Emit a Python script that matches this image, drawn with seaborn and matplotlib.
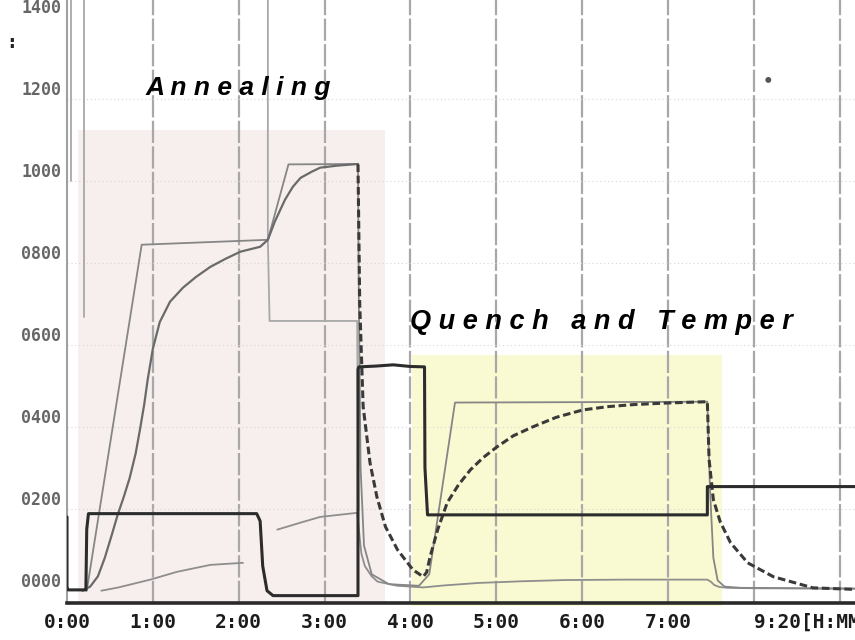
import numpy as np
import pandas as pd
import matplotlib
matplotlib.use("Agg")
import matplotlib.pyplot as plt
import seaborn as sns
from matplotlib.patches import Rectangle

# ---------------- data (hours, temperature) ----------------
x_ticks = [0, 1, 2, 3, 4, 5, 6, 7, 8]
x_tick_labels = ["0:00", "1:00", "2:00", "3:00", "4:00", "5:00", "6:00", "7:00", "9:20[H:MM]"]
y_ticks = [0, 200, 400, 600, 800, 1000, 1200, 1400]
y_tick_labels = ["0000", "0200", "0400", "0600", "0800", "1000", "1200", "1400"]

# process phases: name, start hour, end hour, top value, bottom value
phase_names = ["Annealing", "Quench and Temper"]
phase_start = [0.128, 4.02]
phase_end = [3.706, 7.63]
phase_top = [1124, 576]
phase_bottom = [-33, -38]

# setpoint (thin grey)
setpoint_h = [0.23, 0.87, 2.34, 2.58, 3.39, 3.40, 3.42, 3.46, 3.55, 3.75, 4.10, 4.22, 4.52, 7.46,
              7.49, 7.53, 7.58, 7.66, 7.85, 9.20]
setpoint_v = [0, 844, 856, 1040, 1041, 700, 300, 110, 40, 16, 12, 40, 459, 461,
              250, 80, 25, 10, 7, 5]

# work temperature during annealing (medium grey curve)
work_h = [0.18, 0.27, 0.36, 0.44, 0.52, 0.59, 0.66, 0.73, 0.80, 0.85, 0.90, 0.94, 1.00, 1.08,
          1.20, 1.35, 1.50, 1.67, 1.85, 2.02, 2.25, 2.34, 2.42, 2.54, 2.63, 2.72, 2.85, 2.95,
          3.15, 3.39]
work_v = [0, 10, 35, 80, 135, 185, 228, 275, 335, 393, 455, 515, 590, 655,
          705, 739, 765, 790, 810, 827, 839, 856, 900, 954, 985, 1007, 1022, 1032,
          1037, 1041]

# quench / temper thermocouple (heavy beaded trace)
quench_h = [3.39, 3.41, 3.45, 3.53, 3.61, 3.71, 3.85, 4.03, 4.15, 4.19, 4.23, 4.32, 4.43, 4.56,
            4.70, 4.85, 5.01, 5.20, 5.43, 5.70, 6.01, 6.30, 6.60, 7.00, 7.46, 7.48, 7.53,
            7.61, 7.73, 7.93, 8.23, 8.69, 9.20]
quench_v = [1040, 700, 449, 312, 229, 156, 100, 51, 34, 45, 83, 150, 215, 258,
            295, 325, 351, 378, 400, 423, 441, 449, 454, 458, 461, 320, 222,
            168, 117, 68, 34, 7, 3]

# control output (thick dark step trace)
control_h = [0.0, 0.0, 0.01, 0.22, 0.23, 0.25, 2.21, 2.25, 2.28, 2.33, 2.40, 3.39, 3.39, 3.40,
             3.60, 3.80, 4.00, 4.165, 4.17, 4.20, 7.46, 7.46, 7.48, 9.20]
control_v = [180, 10, 2, 2, 150, 188, 188, 170, 60, 0, -12, -12, 540, 546,
             548, 551, 547, 546, 300, 185, 185, 254, 254, 254]

# low slow trace (light grey), two pieces
low1_h = [0.40, 0.60, 0.97, 1.28, 1.67, 2.05]
low1_v = [0, 8, 27, 46, 63, 68]
low2_h = [2.45, 2.72, 2.95, 3.38, 3.40, 3.43, 3.47, 3.55, 3.62, 3.85, 4.15, 4.40, 4.80, 5.30,
          5.80, 6.50, 7.46, 7.50, 7.54, 7.60, 7.70, 8.00, 9.20]
low2_v = [149, 166, 180, 190, 150, 90, 60, 35, 22, 12, 8, 13, 19, 23,
          26, 27, 27, 22, 14, 9, 7, 6, 5]

# saturated output (faint grey verticals)
sat1_h = [0.05, 0.05]
sat1_v = [1460, 1000]
sat2_h = [0.20, 0.20]
sat2_v = [1460, 668]
sat3_h = [2.34, 2.34, 2.36, 3.38, 3.395]
sat3_v = [1460, 856, 658, 658, 200]

spot_h = [8.17]
spot_v = [1246]


def frame(pieces):
    rows = []
    for seg, (hh, vv) in enumerate(pieces):
        for a, b in zip(hh, vv):
            rows.append((a, b, seg))
    return pd.DataFrame(rows, columns=["h", "v", "seg"])


sns.set_style("white")
fig = plt.figure(figsize=(8.55, 6.4), dpi=100)
ax = fig.add_axes([67 / 855, 1 - 603 / 640, 1 - 67 / 855, 603 / 640])
ax.set_xlim(0, 9.18)
ax.set_ylim(-30, 1441)

phase_colors = ["#f7eeee", "#fafad2"]
for s, e, t, b, c in zip(phase_start, phase_end, phase_top, phase_bottom, phase_colors):
    ax.add_patch(Rectangle((s, b), e - s, t - b, facecolor=c, edgecolor="none",
                           zorder=0, clip_on=False))

# grid
for gx in range(1, 10):
    ax.axvline(gx, color="#a8a8a8", lw=1.6, ls=(0, (10, 1.5)), zorder=1)
for gy in [200, 400, 600, 800, 1000, 1200]:
    ax.axhline(gy, color="#d6d6d6", lw=0.8, ls=(0, (1, 2.5)), zorder=1)

common = dict(x="h", y="v", units="seg", estimator=None, sort=False, ax=ax, legend=False)
sns.lineplot(data=frame([(sat1_h, sat1_v), (sat2_h, sat2_v), (sat3_h, sat3_v)]),
             color="#a8a8a8", lw=1.3, zorder=2, **common)
sns.lineplot(data=frame([(low1_h, low1_v), (low2_h, low2_v)]),
             color="#8e8e8e", lw=1.3, zorder=2, **common)
sns.lineplot(data=frame([(setpoint_h, setpoint_v)]), color="#868686", lw=1.3, zorder=3, **common)
sns.lineplot(data=frame([(work_h, work_v)]), color="#6a6a6a", lw=1.6, zorder=3, **common)
sns.lineplot(data=frame([(quench_h, quench_v)]), color="#3a3a3a", lw=2.2,
             linestyle=(0, (2.5, 1.2)), zorder=4, **common)
sns.lineplot(data=frame([(control_h, control_v)]), color="#2c2c2c", lw=2.2, zorder=5, **common)
sns.scatterplot(x=spot_h, y=spot_v, ax=ax, color="#555555", s=18, edgecolor="none", zorder=5)

# axes styling
for side in ["top", "right"]:
    ax.spines[side].set_visible(False)
ax.spines["bottom"].set_color("#2a2a2a")
ax.spines["bottom"].set_linewidth(2.6)
ax.spines["left"].set_color("#a0a0a0")
ax.spines["left"].set_linewidth(1.5)

ax.set_xticks(x_ticks)
ax.set_xticklabels(x_tick_labels, family="DejaVu Sans Mono", fontweight="bold",
                   fontsize=14, color="#1c1c1c")
ax.set_yticks(y_ticks)
ax.set_yticklabels(y_tick_labels, family="DejaVu Sans Mono", fontweight="bold",
                   fontsize=12, color="#666666", va="bottom")
ax.tick_params(axis="x", length=0, pad=7)
ax.tick_params(axis="y", length=0, pad=4)
ax.get_xticklabels()[-1].set_horizontalalignment("left")
ax.set_xlabel("")
ax.set_ylabel("")

ax.text(0.91, 1227, "A n n e a l i n g", fontsize=19, fontweight="bold", style="italic",
        family="Liberation Sans", va="center", ha="left", color="black", zorder=6)
ax.text(4.0, 656, "Q u e n c h   a n d   T e m p e r", fontsize=19.5, fontweight="bold",
        style="italic", family="Liberation Sans", va="center", ha="left", color="black", zorder=6)

fig.text(0.021, 1 - 42 / 640, "n :", ha="right", va="center", fontsize=14,
         fontweight="bold", family="DejaVu Sans Mono", color="#222222")

fig.savefig("out.png", dpi=100)
